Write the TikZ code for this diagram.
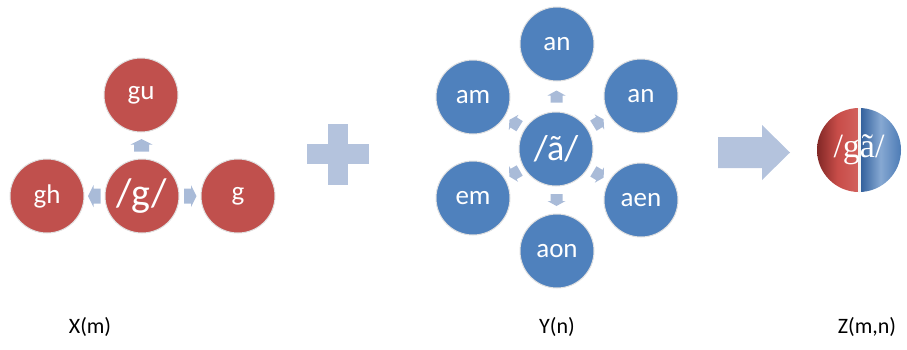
\documentclass[tikz,border=0pt]{standalone}
\usepackage{fontspec}
\setmainfont{Carlito}
\newfontfamily\serifz{Liberation Serif}
\usetikzlibrary{calc}
\definecolor{cred}{HTML}{C0504D}
\definecolor{cblue}{HTML}{4F81BD}
\definecolor{arrowblue}{HTML}{A9BBD8}
\definecolor{plusblue}{HTML}{B4C3DD}
\definecolor{rdark}{HTML}{7E2624}
\definecolor{rmid}{HTML}{C84D49}
\definecolor{rlight}{HTML}{D2625E}
\definecolor{bdark}{HTML}{2C5B98}
\definecolor{bmid}{HTML}{86A8D2}
\definecolor{bedge}{HTML}{4A79B4}
\begin{document}
\begin{tikzpicture}[x=1pt,y=-1pt,
  redball/.style={circle, fill=cred, draw=black!12, line width=1pt, minimum size=74pt, inner sep=0pt, text=white, font=\fontsize{27}{29}\selectfont},
  blueball/.style={redball, fill=cblue},
  sarr/.pic={\fill[arrowblue] (-6,-7.5) -- (1,-7.5) -- (1,-11) -- (6.5,0) -- (1,11) -- (1,7.5) -- (-6,7.5) -- cycle;},
  marr/.pic={\fill[arrowblue] (-6,-6) -- (1,-6) -- (1,-9) -- (6,0) -- (1,9) -- (1,6) -- (-6,6) -- cycle;},
  caplabel/.style={font=\fontsize{22}{24}\selectfont, text=black}
]
\useasboundingbox (0,0) rectangle (907,349);

% left group
\node[redball] (gu) at (141,95) {gu};
\node[redball, font=\fontsize{40}{42}\selectfont] (g0) at (142,196) {/g/};
\node[redball] (gh) at (47,196) {gh};
\node[redball] (g) at (238,196) {g};
\pic[rotate=90] at ($(g0)!0.5!(gu)$) {sarr};
\pic[rotate=180] at ($(g0)!0.5!(gh)$) {sarr};
\pic at ($(g0)!0.5!(g)$) {sarr};

% plus
\fill[plusblue] (307,144) rectangle (369,164);
\fill[plusblue] (328,124) rectangle (348,185);

% middle group
\node[blueball, font=\fontsize{36}{38}\selectfont] (a0) at (556,149) {/ã/};
\node[blueball] (an1) at (557,44) {an};
\node[blueball] (am) at (473,97) {am};
\node[blueball] (an2) at (641,96) {an};
\node[blueball] (em) at (473,198) {em};
\node[blueball] (aen) at (641,200) {aen};
\node[blueball] (aon) at (557,251) {aon};
\pic[rotate=90] at ($(a0)!0.5!(an1)$) {marr};
\pic[rotate=270] at ($(a0)!0.5!(aon)$) {marr};
\pic[rotate=148] at ($(a0)!0.5!(am)$) {marr};
\pic[rotate=32] at ($(a0)!0.5!(an2)$) {marr};
\pic[rotate=210] at ($(a0)!0.5!(em)$) {marr};
\pic[rotate=329] at ($(a0)!0.5!(aen)$) {marr};

% big arrow
\fill[plusblue] (718,137) -- (762,137) -- (762,125) -- (790,152.5) -- (762,180) -- (762,168) -- (718,168) -- cycle;

% result circle
\node[circle, minimum size=84pt, inner sep=0pt] (z) at (859,150) {};
\begin{scope}
  \clip (z.center) circle (42pt);
  \shade[left color=rdark, right color=rlight, middle color=rmid] (816,107) rectangle (859,193);
  \shade[left color=bdark, right color=bedge, middle color=bmid] (859,107) rectangle (902,193);
  \fill[white!92!gray] (858,107) rectangle (860.5,193);
\end{scope}
\node[text=white, font=\serifz\fontsize{34}{36}\selectfont, inner sep=0pt] (zt) at (z.center) {/gã/};

% labels
\node[caplabel] (lx) at (90,327) {X(m)};
\node[caplabel] (ly) at (557,327) {Y(n)};
\node[caplabel] (lz) at (867,327) {Z(m,n)};
\end{tikzpicture}
\end{document}
